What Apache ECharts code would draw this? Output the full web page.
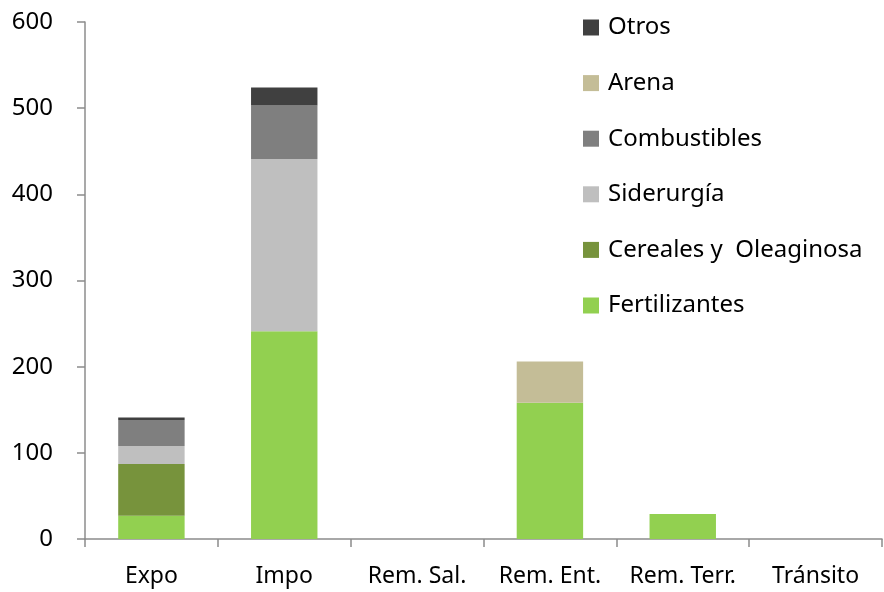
<!DOCTYPE html>
<html>
<head>
<meta charset="utf-8">
<script src="https://cdn.jsdelivr.net/npm/echarts@6/dist/echarts.min.js"></script>
<style>
  html, body { margin: 0; padding: 0; background: #fff; }
  #chart { width: 884px; height: 592px; }
</style>
</head>
<body>
<div id="chart"></div>
<script>
var categories = ['Expo', 'Impo', 'Rem. Sal.', 'Rem. Ent.', 'Rem. Terr.', 'Tránsito']
var yTicks = [0, 100, 200, 300, 400, 500, 600]

// stacked from bottom to top
var fertilizantes = [27, 241, 0, 158, 29, 0]
var cereales      = [60, 0, 0, 0, 0, 0]
var siderurgia    = [21, 200, 0, 0, 0, 0]
var combustibles  = [30, 62, 0, 0, 0, 0]
var arena         = [0, 0, 0, 48, 0, 0]
var otros         = [3, 21, 0, 0, 0, 0]

var chart = echarts.init(document.getElementById('chart'))

var font = 'Noto Sans'
var axisGray = '#8c8c8c'

function bar(name, data, color) {
  return {
    name: name,
    type: 'bar',
    stack: 'total',
    barWidth: '50%',
    data: data,
    itemStyle: { color: color },
    emphasis: { disabled: true }
  }
}

var option = {
  animation: false,
  textStyle: { fontFamily: font },
  grid: { left: 85, right: 2, top: 22, bottom: 53 },
  legend: {
    orient: 'vertical',
    left: 583,
    top: 15,
    padding: 0,
    itemWidth: 16,
    itemHeight: 16,
    itemGap: 30.6,
    icon: 'rect',
    textStyle: { fontSize: 24, color: '#000', fontFamily: font, lineHeight: 25, padding: [0, 0, 0, 4] },
    data: ['Otros', 'Arena', 'Combustibles', 'Siderurgía', 'Cereales y  Oleaginosa', 'Fertilizantes']
  },
  xAxis: {
    type: 'category',
    data: categories,
    axisLine: { lineStyle: { color: axisGray, width: 1.5 } },
    axisTick: { show: true, interval: 0, length: 8, lineStyle: { color: axisGray, width: 1.5 } },
    axisLabel: { interval: 0, hideOverlap: false, color: '#000', fontSize: 23, margin: 26, fontFamily: font }
  },
  yAxis: {
    type: 'value',
    min: yTicks[0],
    max: yTicks[yTicks.length - 1],
    interval: 100,
    splitLine: { show: false },
    axisLine: { show: true, lineStyle: { color: axisGray, width: 1.5 } },
    axisTick: { show: true, length: 8, lineStyle: { color: axisGray, width: 1.5 } },
    axisLabel: { color: '#000', fontSize: 24, margin: 32, fontFamily: font }
  },
  series: [
    bar('Fertilizantes', fertilizantes, '#92D050'),
    bar('Cereales y  Oleaginosa', cereales, '#77933C'),
    bar('Siderurgía', siderurgia, '#BFBFBF'),
    bar('Combustibles', combustibles, '#7F7F7F'),
    bar('Arena', arena, '#C4BD97'),
    bar('Otros', otros, '#404040')
  ]
}

chart.setOption(option)
</script>
</body>
</html>
